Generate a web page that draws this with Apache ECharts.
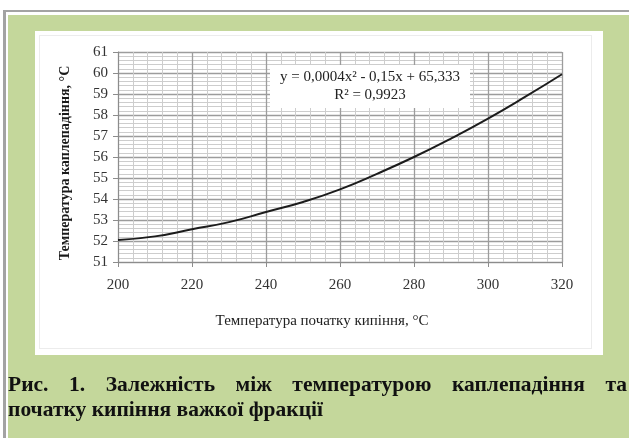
<!DOCTYPE html>
<html>
<head>
<meta charset="utf-8">
<script src="https://cdn.jsdelivr.net/npm/echarts@6/dist/echarts.min.js"></script>
<style>
  html, body { margin: 0; padding: 0; width: 629px; height: 438px; background: #fff; overflow: hidden; }
  .frame-top { position: absolute; left: 3px; top: 10px; width: 626px; height: 2px; background: #a3a3a3; }
  .frame-left { position: absolute; left: 3px; top: 10px; width: 3px; height: 428px; background: #a3a3a3; }
  .panel { position: absolute; left: 8px; top: 15px; right: 0; bottom: 0; background: #c4d79b; }
  .sheet { position: absolute; left: 35px; top: 31px; width: 568px; height: 324px; background: #fff; }
  .sheet-edge { position: absolute; left: 39px; top: 35px; width: 553px; height: 314px; border: 1px solid #ececec; box-sizing: border-box; }
  #chart { position: absolute; left: 0; top: 0; width: 629px; height: 438px; }
  .caption { position: absolute; left: 8px; top: 372px; width: 619px; font-family: "Liberation Serif", "Times New Roman", serif; font-weight: bold; font-size: 21.5px; line-height: 25px; color: #111; }
  .caption .l1 { text-align: justify; text-align-last: justify; white-space: nowrap; }
</style>
</head>
<body>
<div class="frame-top"></div>
<div class="frame-left"></div>
<div class="panel"></div>
<div class="sheet"></div>
<div class="sheet-edge"></div>
<div id="chart"></div>
<div class="caption">
  <div class="l1">Рис. 1. Залежність між температурою каплепадіння та</div>
  <div>початку кипіння важкої фракції</div>
</div>
<script>
// Initial boiling temperature of the heavy fraction, °C
const boilTemps = [200, 210, 220, 230, 240, 250, 260, 270, 280, 290, 300, 310, 320];
// Drop point temperature (polynomial trend), °C
const dropTemps = [52.05, 52.22, 52.56, 52.9, 53.38, 53.86, 54.46, 55.2, 56.0, 56.88, 57.83, 58.86, 59.94];

const xTitle = 'Температура початку кипіння, °С';
const yTitle = 'Температура каплепадіння, °С';
const trendEq = 'y = 0,0004x² - 0,15x + 65,333';
const trendR2 = 'R² = 0,9923';

const serif = '"Liberation Serif", "Times New Roman", serif';

const chart = echarts.init(document.getElementById('chart'), null, { renderer: 'canvas' });
chart.setOption({
  backgroundColor: 'transparent',
  animation: false,
  grid: { left: 118, right: 67, top: 52, bottom: 176 },
  xAxis: {
    type: 'value', min: 200, max: 320, interval: 20,
    axisLine: { show: true, onZero: false, lineStyle: { color: '#8c8c8c', width: 1 } },
    axisTick: { show: true, length: 5, lineStyle: { color: '#8c8c8c' } },
    axisLabel: { color: '#333', fontFamily: serif, fontSize: 15, margin: 16 },
    splitLine: { show: true, lineStyle: { color: '#9c9c9c', width: 1.3 } },
    minorTick: { show: false, splitNumber: 5 },
    minorSplitLine: { show: true, lineStyle: { color: '#cdcdcd', width: 1 } }
  },
  yAxis: {
    type: 'value', min: 51, max: 61, interval: 1,
    axisLine: { show: true, lineStyle: { color: '#8c8c8c', width: 1 } },
    axisTick: { show: true, length: 5, lineStyle: { color: '#8c8c8c' } },
    axisLabel: { color: '#333', fontFamily: serif, fontSize: 15, margin: 10 },
    splitLine: { show: true, lineStyle: { color: '#9c9c9c', width: 1.3 } },
    minorTick: { show: false, splitNumber: 5 },
    minorSplitLine: { show: true, lineStyle: { color: '#cdcdcd', width: 1 } }
  },
  series: [{
    type: 'line',
    data: boilTemps.map((t, i) => [t, dropTemps[i]]),
    smooth: true,
    showSymbol: false,
    lineStyle: { color: '#1c1c1c', width: 2 },
    z: 5
  }],
  graphic: [
    {
      type: 'rect', left: 270, top: 65, z: 20,
      shape: { width: 200, height: 43 }, style: { fill: '#fff' }
    },
    {
      type: 'text', x: 370, y: 77, z: 21,
      style: { text: trendEq, fill: '#222', font: '15px ' + serif, textAlign: 'center', textVerticalAlign: 'middle' }
    },
    {
      type: 'text', x: 370, y: 95, z: 21,
      style: { text: trendR2, fill: '#222', font: '15px ' + serif, textAlign: 'center', textVerticalAlign: 'middle' }
    },
    {
      type: 'text', x: 322, y: 321, z: 21,
      style: { text: xTitle, fill: '#222', font: '15px ' + serif, textAlign: 'center', textVerticalAlign: 'middle' }
    },
    {
      type: 'text', x: 65, y: 163, rotation: Math.PI / 2, z: 21,
      style: { text: yTitle, fill: '#1a1a1a', font: 'bold 14px ' + serif, textAlign: 'center', textVerticalAlign: 'middle' }
    }
  ]
});
</script>
</body>
</html>
